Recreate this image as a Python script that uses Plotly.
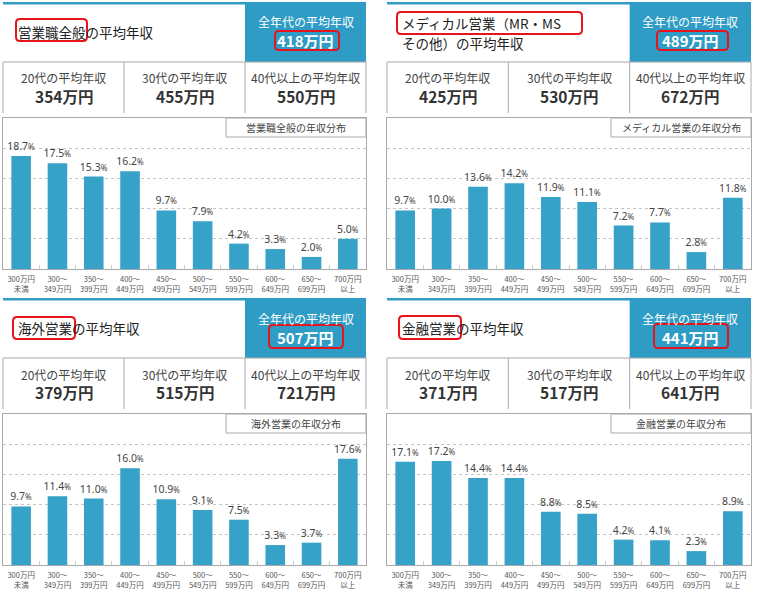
import plotly.graph_objects as go

W, H = 758, 595

categories = ["300万円<br>未満", "300～<br>349万円", "350～<br>399万円", "400～<br>449万円",
              "450～<br>499万円", "500～<br>549万円", "550～<br>599万円", "600～<br>649万円",
              "650～<br>699万円", "700万円<br>以上"]

title_lines = [["営業職全般の平均年収"],
               ["メディカル営業（MR・MS", "その他）の平均年収"],
               ["海外営業の平均年収"],
               ["金融営業の平均年収"]]
dist_titles = ["営業職全般の年収分布", "メディカル営業の年収分布", "海外営業の年収分布", "金融営業の年収分布"]
overall_label = "全年代の平均年収"
age_labels = ["20代の平均年収", "30代の平均年収", "40代以上の平均年収"]

overall_avg = [418, 489, 507, 441]
avg_20s = [354, 425, 379, 371]
avg_30s = [455, 530, 515, 517]
avg_40s = [550, 672, 721, 641]

sales_all = [18.7, 17.5, 15.3, 16.2, 9.7, 7.9, 4.2, 3.3, 2.0, 5.0]
medical = [9.7, 10.0, 13.6, 14.2, 11.9, 11.1, 7.2, 7.7, 2.8, 11.8]
overseas = [9.7, 11.4, 11.0, 16.0, 10.9, 9.1, 7.5, 3.3, 3.7, 17.6]
finance = [17.1, 17.2, 14.4, 14.4, 8.8, 8.5, 4.2, 4.1, 2.3, 8.9]
series = [sales_all, medical, overseas, finance]

# ---- layout (pixels) ----
panels = [(3, 366, 2), (387, 751, 2), (3, 366, 298), (387, 751, 298)]
title_boxes = [(16, 19, 87, 41), (397, 12, 582, 34), (13, 317, 75, 339), (399, 316, 461, 339)]
value_boxes = [(275, 31, 339, 50), (657, 31, 728, 50), (269, 325, 343, 348), (654, 324, 728, 348)]

BLUE = "#2f9cc5"
BAR = "#37a2c8"
GRAY = "#a9a9a9"
JP = "Noto Sans CJK JP"


def X(px):
    return px / W


def Y(py):
    return 1 - py / H


def rrect(x0, y0, x1, y1, r=4):
    return (f"M{X(x0 + r)},{Y(y0)} L{X(x1 - r)},{Y(y0)} Q{X(x1)},{Y(y0)} {X(x1)},{Y(y0 + r)} "
            f"L{X(x1)},{Y(y1 - r)} Q{X(x1)},{Y(y1)} {X(x1 - r)},{Y(y1)} "
            f"L{X(x0 + r)},{Y(y1)} Q{X(x0)},{Y(y1)} {X(x0)},{Y(y1 - r)} "
            f"L{X(x0)},{Y(y0 + r)} Q{X(x0)},{Y(y0)} {X(x0 + r)},{Y(y0)} Z")


fig = go.Figure()
shapes = []
annotations = []
layout_axes = {}

for i, (x0, x1, top) in enumerate(panels):
    n = "" if i == 0 else str(i + 1)
    w = x1 - x0
    c1 = x0 + w / 3
    c2 = x0 + 2 * w / 3

    # bars
    fig.add_trace(go.Bar(
        x=categories, y=series[i], xaxis="x" + n, yaxis="y" + n,
        marker=dict(color=BAR, line=dict(width=0)),
        texttemplate="%{y:.1f}<span style='font-size:8px'>%</span>",
        textposition="outside", cliponaxis=False, constraintext="none",
        textfont=dict(family="Noto Sans", size=10.5, color="#444"),
        showlegend=False, hoverinfo="x+y",
    ))
    layout_axes["xaxis" + n] = dict(
        domain=[X(x0), X(x1)], anchor="y" + n, type="category",
        showline=True, mirror=True, linecolor=GRAY, linewidth=1,
        ticks="inside", tickson="boundaries", ticklen=4, tickcolor="#cccccc",
        tickangle=0, ticklabelstandoff=3,
        tickfont=dict(family=JP, size=7.5, color="#555"),
        showgrid=False, fixedrange=True,
    )
    layout_axes["yaxis" + n] = dict(
        domain=[Y(top + 267), Y(top + 116)], anchor="x" + n, range=[0, 25],
        showline=True, mirror=True, linecolor=GRAY, linewidth=1,
        tickvals=[5, 10, 15, 20], showticklabels=False, ticks="",
        showgrid=True, gridcolor="#c4c4c4", griddash="dot", gridwidth=1,
        zeroline=False, fixedrange=True,
    )

    # top blue line
    shapes.append(dict(type="rect", xref="paper", yref="paper", x0=X(x0), x1=X(x1),
                       y0=Y(top + 2.5), y1=Y(top), fillcolor=BLUE, line=dict(width=0)))
    # blue box
    shapes.append(dict(type="rect", xref="paper", yref="paper", x0=X(c2), x1=X(x1),
                       y0=Y(top + 60), y1=Y(top), fillcolor=BLUE, line=dict(width=0)))
    # age row borders
    shapes.append(dict(type="line", xref="paper", yref="paper", x0=X(x0), x1=X(x1),
                       y0=Y(top + 60), y1=Y(top + 60), line=dict(color=GRAY, width=1)))
    for vx in (x0, c1, c2, x1):
        shapes.append(dict(type="line", xref="paper", yref="paper", x0=X(vx), x1=X(vx),
                           y0=Y(top + 60), y1=Y(top + 111), line=dict(color=GRAY, width=1)))
    # distribution label box
    shapes.append(dict(type="rect", xref="paper", yref="paper", x0=X(x1 - 140), x1=X(x1),
                       y0=Y(top + 135), y1=Y(top + 116), fillcolor="white",
                       line=dict(color=GRAY, width=1)))
    # red highlight boxes
    for b in (title_boxes[i], value_boxes[i]):
        shapes.append(dict(type="path", xref="paper", yref="paper", path=rrect(*b),
                           line=dict(color="#e8141c", width=2), fillcolor="rgba(0,0,0,0)"))

    # title text
    lines = title_lines[i]
    if len(lines) == 1:
        ys = [top + 30]
    else:
        ys = [top + 21, top + 41]
    for ln, ty in zip(lines, ys):
        annotations.append(dict(xref="paper", yref="paper", x=X(x0 + 13), y=Y(ty),
                                xanchor="left", yanchor="middle", showarrow=False, text=ln,
                                font=dict(family=JP, size=13.5, color="#222")))
    # blue box text
    bx = (c2 + x1) / 2
    annotations.append(dict(xref="paper", yref="paper", x=X(bx), y=Y(top + 20),
                            xanchor="center", yanchor="middle", showarrow=False, text=overall_label,
                            font=dict(family=JP, size=12, color="white")))
    annotations.append(dict(xref="paper", yref="paper", x=X(bx), y=Y(top + 39),
                            xanchor="center", yanchor="middle", showarrow=False,
                            text=f"<b>{overall_avg[i]}万円</b>",
                            font=dict(family=JP, size=15, color="white")))
    # age row text
    for k, (lab, val) in enumerate(zip(age_labels, (avg_20s[i], avg_30s[i], avg_40s[i]))):
        cx = x0 + w / 6 + k * w / 3
        annotations.append(dict(xref="paper", yref="paper", x=X(cx), y=Y(top + 76),
                                xanchor="center", yanchor="middle", showarrow=False, text=lab,
                                font=dict(family=JP, size=12, color="#444")))
        annotations.append(dict(xref="paper", yref="paper", x=X(cx), y=Y(top + 94),
                                xanchor="center", yanchor="middle", showarrow=False,
                                text=f"<b>{val}万円</b>",
                                font=dict(family=JP, size=15.5, color="#333")))
    # distribution label
    annotations.append(dict(xref="paper", yref="paper", x=X(x1 - 70), y=Y(top + 125.5),
                            xanchor="center", yanchor="middle", showarrow=False, text=dist_titles[i],
                            font=dict(family=JP, size=10, color="#444")))

fig.update_layout(
    width=W, height=H, margin=dict(l=0, r=0, t=0, b=0),
    paper_bgcolor="white", plot_bgcolor="white",
    bargap=0.46, shapes=shapes, annotations=annotations,
    font=dict(family=JP),
    **layout_axes,
)

fig.write_html("out.html",
               config={"displayModeBar": False},
               post_script="document.body.style.margin='0';document.body.style.overflow='hidden';")
